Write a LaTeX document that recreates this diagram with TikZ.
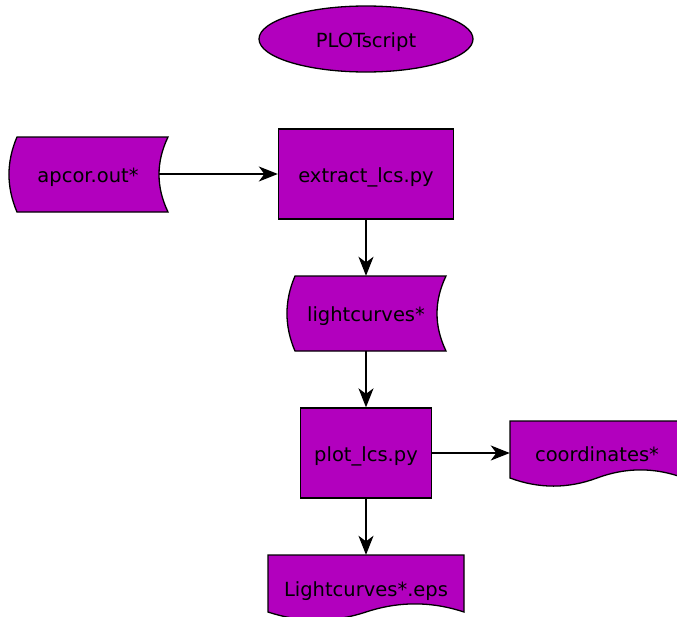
\documentclass[tikz,border=0pt]{standalone}
\usepackage{fontspec}
\setmainfont{DejaVu Sans}
\usetikzlibrary{arrows.meta,shapes.geometric}
\definecolor{purp}{RGB}{178,0,190}
\tikzset{
  lbl/.style={font=\fontsize{19.5}{23}\selectfont, text=black, inner sep=0pt, text height=20pt, text depth=4pt},
  procbox/.style={lbl, draw=black, fill=purp, line width=1.3pt, rectangle},
  ghost/.style={lbl, draw=none, rectangle},
  shp/.style={draw=black, fill=purp, line width=1.3pt},
  arr/.style={draw=black, line width=1.6pt, -{Stealth[length=19pt,width=15pt,inset=5.5pt]}}
}
\begin{document}
\begin{tikzpicture}[x=1pt,y=-1pt]
\useasboundingbox (0,0) rectangle (677,616);
\clip (0,0) rectangle (677,616);
% storage shapes
\path[shp] (17,137) -- (168,137) .. controls (156,162) and (156,187) .. (168,212)
  -- (17,212) .. controls (6.3,187) and (6.3,162) .. (17,137) -- cycle;
\path[shp] (295,276) -- (446,276) .. controls (434,301) and (434,326) .. (446,351)
  -- (295,351) .. controls (284.3,326) and (284.3,301) .. (295,276) -- cycle;
% document shapes
\path[shp] (510,421) -- (684,421) -- (684,478)
  .. controls (655,467.2) and (626,467.2) .. (597,478)
  .. controls (568,488.8) and (539,488.8) .. (510,478) -- cycle;
\path[shp] (268,555) -- (464,555) -- (464,612)
  .. controls (431.3,601.2) and (398.7,601.2) .. (366,612)
  .. controls (333.3,622.8) and (300.7,622.8) .. (268,612) -- cycle;
% nodes
\node[lbl, ellipse, draw=black, fill=purp, line width=1.3pt, minimum width=214pt, minimum height=66pt] (plotscript) at (366,39) {PLOTscript};
\node[procbox, minimum width=175pt, minimum height=90pt] (extract) at (366,174) {extract\_lcs.py};
\node[procbox, minimum width=131pt, minimum height=90pt] (plot) at (366,453) {plot\_lcs.py};
\node[ghost, minimum width=142pt, minimum height=75pt] (apcor) at (88,174) {apcor.out*};
\node[ghost, minimum width=142pt, minimum height=75pt] (lightcurves) at (366,313.5) {lightcurves*};
\node[ghost, minimum width=174pt, minimum height=66pt] (coords) at (597,453) {coordinates*};
\node[ghost, minimum width=196pt, minimum height=66pt] (eps) at (366,588) {Lightcurves*.eps};
% connectors
\draw[arr] (apcor.east) -- (extract.west);
\draw[arr] (extract.south) -- (lightcurves.north);
\draw[arr] (lightcurves.south) -- (plot.north);
\draw[arr] (plot.east) -- (coords.west);
\draw[arr] (plot.south) -- (eps.north);
\end{tikzpicture}
\end{document}
